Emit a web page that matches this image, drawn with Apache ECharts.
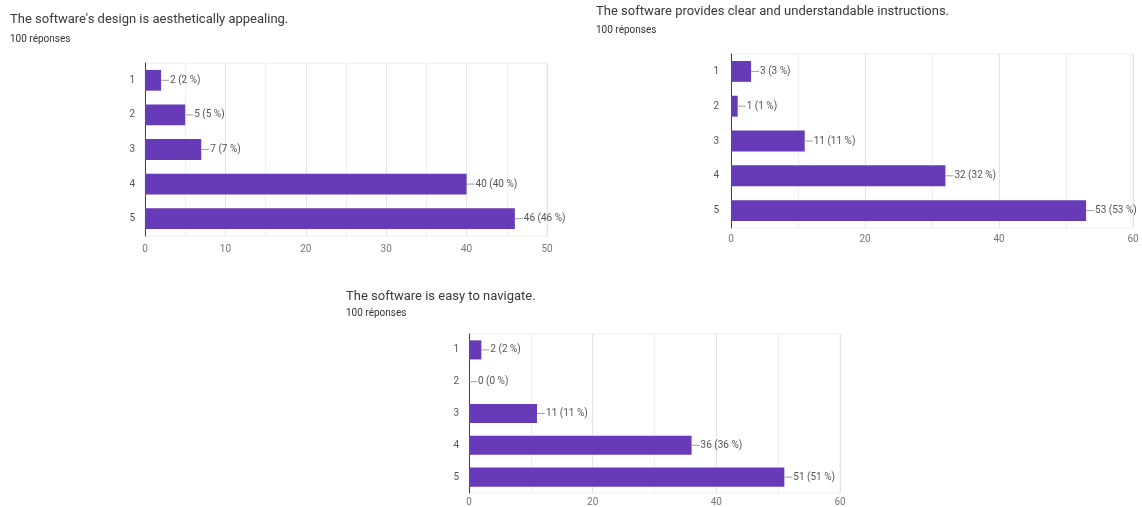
<!DOCTYPE html>
<html>
<head>
<meta charset="utf-8">
<script src="https://cdn.jsdelivr.net/npm/echarts@6/dist/echarts.min.js"></script>
<style>
html,body{margin:0;padding:0;background:#fff;}
#c{width:1142px;height:507px;}
</style>
</head>
<body>
<div id="c"></div>
<script>
// ---- data ----
const categories = ['1', '2', '3', '4', '5'];
const titles = [
  "The software's design is aesthetically appealing.",
  "The software provides clear and understandable instructions.",
  "The software is easy to navigate."
];
const subtitle = '100 réponses';
const totalResponses = 100;
const aestheticValues = [2, 5, 7, 40, 46];
const instructionValues = [3, 1, 11, 32, 53];
const navigationValues = [2, 0, 11, 36, 51];
const axisMax = [50, 60, 60];
const axisInterval = [10, 20, 20];

// ---- layout ----
const FONT = 'Roboto, "Noto Sans", sans-serif';
const BAR = '#673ab7';
const grids = [
  {left: 145, top: 63, width: 402, height: 173, titleX: 10, titleY: 13, subY: 34, catMargin: 10, xMargin: 8},
  {left: 731, top: 54, width: 402, height: 174, titleX: 596, titleY: 5, subY: 25, catMargin: 12, xMargin: 6},
  {left: 469, top: 334, width: 371, height: 160, titleX: 346, titleY: 290, subY: 308, catMargin: 10, xMargin: 4}
];
const seriesData = [aestheticValues, instructionValues, navigationValues];

const option = {
  backgroundColor: '#fff',
  animation: false,
  textStyle: {fontFamily: FONT},
  title: [],
  grid: [], xAxis: [], yAxis: [], series: []
};

grids.forEach((g, i) => {
  option.title.push({
    text: titles[i], left: g.titleX, top: g.titleY, padding: 0,
    textStyle: {fontFamily: FONT, fontSize: 13, fontWeight: 'normal', color: '#3a3a3a', lineHeight: 14}
  });
  option.title.push({
    text: subtitle, left: g.titleX, top: g.subY, padding: 0,
    textStyle: {fontFamily: FONT, fontSize: 10, fontWeight: 'normal', color: '#333', lineHeight: 10}
  });
  option.grid.push({
    left: g.left, top: g.top, width: g.width, height: g.height,
    show: true, borderColor: '#eeeeee', borderWidth: 1, backgroundColor: 'transparent'
  });
  option.xAxis.push({
    type: 'value', gridIndex: i, min: 0, max: axisMax[i], interval: axisInterval[i],
    axisLine: {show: false}, axisTick: {show: false},
    axisLabel: {color: '#777', fontSize: 10, fontFamily: FONT, margin: g.xMargin},
    splitLine: {show: true, lineStyle: {color: '#e4e4e4', width: 1}},
    minorTick: {show: false, splitNumber: 2},
    minorSplitLine: {show: true, lineStyle: {color: '#f0f0f0', width: 1}}
  });
  option.yAxis.push({
    type: 'category', gridIndex: i, data: categories, inverse: true,
    axisLine: {show: true, onZero: false, lineStyle: {color: '#444', width: 1}},
    axisTick: {show: false},
    axisLabel: {color: '#555', fontSize: 10, fontFamily: FONT, margin: g.catMargin},
    splitLine: {show: false}
  });
  option.series.push({
    type: 'bar', xAxisIndex: i, yAxisIndex: i,
    data: seriesData[i],
    barCategoryGap: '40%',
    itemStyle: {color: BAR},
    z: 3,
    label: {
      show: true, position: 'right', distance: 0,
      formatter: p => '{l|}{t|' + p.value + ' (' + Math.round(p.value / totalResponses * 100) + ' %)}',
      rich: {
        l: {width: 8, height: 1, backgroundColor: '#9e9e9e', verticalAlign: 'middle'},
        t: {color: '#555', fontSize: 10, fontFamily: FONT, padding: [0, 0, 0, 1], verticalAlign: 'middle'}
      }
    }
  });
});

const chart = echarts.init(document.getElementById('c'), null, {renderer: 'canvas'});
chart.setOption(option);
</script>
</body>
</html>
